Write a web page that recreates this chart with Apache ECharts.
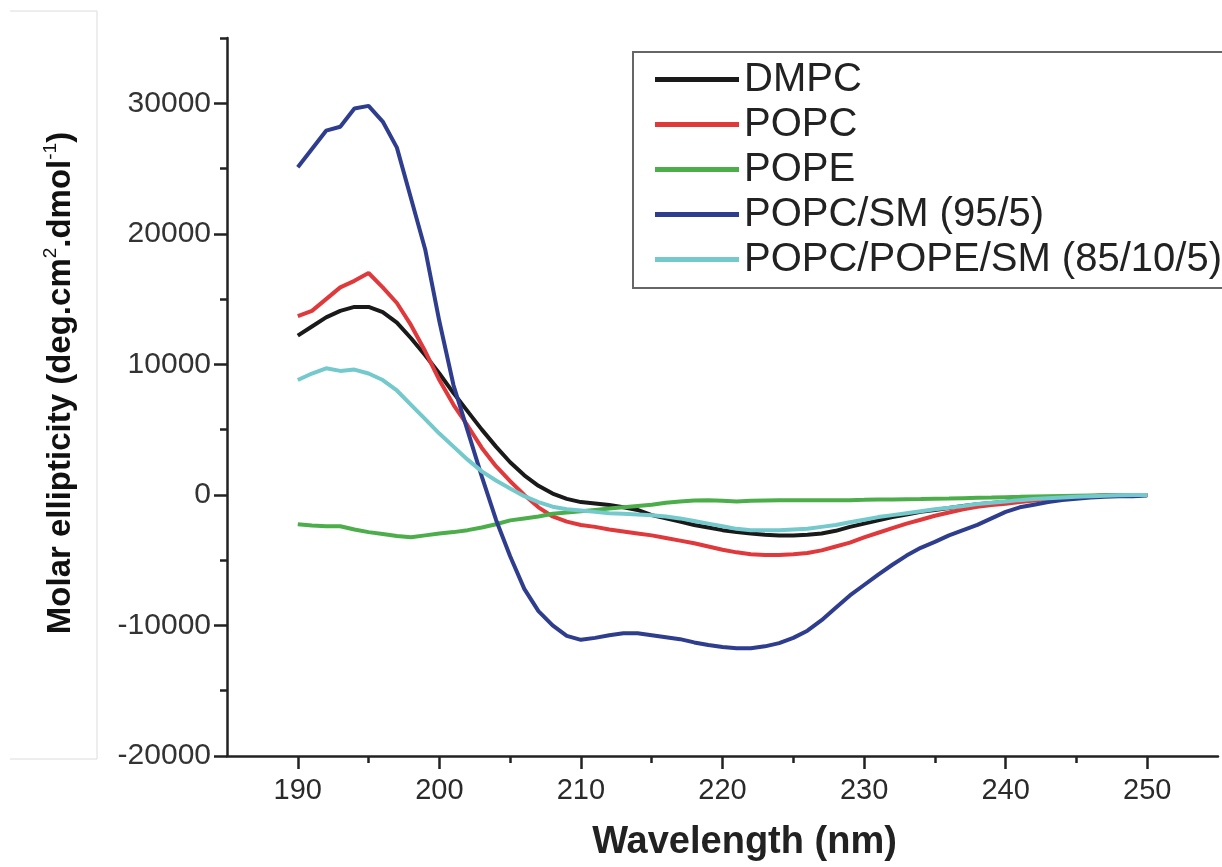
<!DOCTYPE html>
<html>
<head>
<meta charset="utf-8">
<script src="https://cdn.jsdelivr.net/npm/echarts@6/dist/echarts.min.js"></script>
<style>
html,body{margin:0;padding:0;background:#fff;}
#chart{width:1222px;height:867px;}
</style>
</head>
<body>
<div id="chart"></div>
<script>
// ---- data ----
const wavelengths = [190,191,192,193,194,195,196,197,198,199,200,201,202,203,204,205,206,207,208,209,210,211,212,213,214,215,216,217,218,219,220,221,222,223,224,225,226,227,228,229,230,231,232,233,234,235,236,237,238,239,240,241,242,243,244,245,246,247,248,249,250];
const seriesNames = ['DMPC','POPC','POPE','POPC/SM (95/5)','POPC/POPE/SM (85/10/5)'];
const dmpc = [12200,12900,13600,14100,14400,14400,14000,13200,12000,10700,9300,7800,6400,5000,3700,2500,1500,700,100,-300,-550,-650,-780,-950,-1150,-1550,-1800,-2050,-2300,-2500,-2700,-2850,-2950,-3050,-3100,-3100,-3050,-2950,-2750,-2450,-2200,-1950,-1700,-1500,-1300,-1150,-1000,-850,-720,-620,-520,-400,-330,-270,-200,-150,-100,-50,0,0,0];
const popc = [13700,14100,15000,15900,16400,17000,15900,14700,13000,11000,8800,6900,5300,3600,2200,1050,0,-950,-1650,-2050,-2300,-2450,-2650,-2800,-2950,-3100,-3300,-3500,-3700,-3950,-4200,-4400,-4550,-4600,-4600,-4550,-4450,-4250,-3950,-3650,-3250,-2900,-2550,-2200,-1900,-1600,-1350,-1100,-900,-780,-680,-550,-420,-300,-200,-130,-80,-40,-20,0,0];
const pope = [-2250,-2350,-2400,-2400,-2650,-2850,-3000,-3150,-3250,-3100,-2950,-2850,-2700,-2500,-2250,-1950,-1800,-1650,-1450,-1350,-1250,-1150,-1050,-950,-850,-750,-600,-500,-420,-400,-450,-500,-450,-420,-400,-400,-400,-400,-400,-400,-380,-350,-350,-330,-320,-300,-280,-250,-220,-200,-170,-150,-120,-100,-80,-60,-40,-20,0,0,0];
const popcSm = [25100,26500,27900,28200,29600,29800,28600,26600,22700,18800,13300,8400,4900,1400,-1900,-4700,-7200,-8900,-10000,-10800,-11100,-10950,-10750,-10600,-10600,-10750,-10900,-11050,-11300,-11500,-11650,-11750,-11750,-11600,-11350,-10950,-10400,-9600,-8650,-7700,-6900,-6100,-5350,-4650,-4050,-3600,-3100,-2700,-2300,-1800,-1300,-950,-750,-550,-400,-300,-200,-150,-100,-100,-50];
const popcPopeSm = [8800,9300,9700,9500,9600,9300,8800,8000,6900,5800,4700,3700,2700,1800,1100,500,-100,-550,-900,-1100,-1200,-1300,-1400,-1450,-1500,-1550,-1650,-1800,-2000,-2200,-2400,-2600,-2700,-2700,-2700,-2650,-2600,-2450,-2300,-2100,-1900,-1700,-1550,-1400,-1250,-1100,-980,-850,-700,-600,-500,-400,-320,-250,-200,-150,-100,-60,-30,0,0];
const xTickLabels = [190,200,210,220,230,240,250];
const xMinorTicks = [195,205,215,225,235,245];
const yTickLabels = [-20000,-10000,0,10000,20000,30000];
const yMinorTicks = [-15000,-5000,5000,15000,25000,35000];

const colors = ['#1a1a1a','#e0393b','#4cae4a','#2e3d8e','#74c9cc'];
const allValues = [dmpc, popc, pope, popcSm, popcPopeSm];

const chart = echarts.init(document.getElementById('chart'));
const axisColor = '#222';

const series = seriesNames.map((name, i) => ({
  name: name,
  type: 'line',
  xAxisIndex: 0,
  yAxisIndex: 0,
  symbol: 'none',
  smooth: false,
  data: wavelengths.map((w, j) => [w, allValues[i][j]]),
  lineStyle: { width: 4, color: colors[i] },
  itemStyle: { color: colors[i] },
  z: 2 + i
}));

const option = {
  animation: false,
  backgroundColor: '#fff',
  grid: { left: 227, right: 4, top: 38, bottom: 111, containLabel: false },
  xAxis: [
    {
      type: 'value', min: 185, max: 255,
      name: 'Wavelength (nm)', nameLocation: 'middle', nameGap: 68,
      nameTextStyle: { fontFamily: 'Liberation Sans, Arial, sans-serif', fontWeight: 'bold', fontSize: 38, color: '#222', padding: [0,0,0,44] },
      axisLine: { show: true, onZero: false, lineStyle: { color: axisColor, width: 2.5 } },
      axisTick: { show: true, length: 13, inside: false, customValues: xTickLabels, lineStyle: { color: axisColor, width: 2.5 } },
      axisLabel: { show: true, customValues: xTickLabels, margin: 20, fontFamily: 'Liberation Sans Narrow, Liberation Sans, Arial, sans-serif', fontSize: 29, color: '#2a2a2a', formatter: v => String(v) },
      splitLine: { show: false }
    },
    {
      type: 'value', min: 185, max: 255, position: 'bottom', gridIndex: 0,
      axisLine: { show: false, onZero: false },
      axisTick: { show: true, length: 7, customValues: xMinorTicks, lineStyle: { color: axisColor, width: 2.5 } },
      axisLabel: { show: false },
      splitLine: { show: false }
    }
  ],
  yAxis: [
    {
      type: 'value', min: -20000, max: 35000,
      axisLine: { show: true, onZero: false, lineStyle: { color: axisColor, width: 2.5 } },
      axisTick: { show: true, length: 13, customValues: yTickLabels, lineStyle: { color: axisColor, width: 2.5 } },
      axisLabel: { show: true, customValues: yTickLabels, margin: 16, fontFamily: 'Liberation Sans, Arial, sans-serif', fontSize: 30, color: '#333', formatter: v => String(v) },
      splitLine: { show: false }
    },
    {
      type: 'value', min: -20000, max: 35000, position: 'left', gridIndex: 0,
      axisLine: { show: false, onZero: false },
      axisTick: { show: true, length: 7, customValues: yMinorTicks, lineStyle: { color: axisColor, width: 2.5 } },
      axisLabel: { show: false },
      splitLine: { show: false }
    }
  ],
  legend: {
    orient: 'vertical',
    left: 633, top: 52,
    padding: [5, 40, 6, 22],
    itemGap: 0,
    itemWidth: 84, itemHeight: 5,
    icon: 'rect',
    borderColor: '#666', borderWidth: 2,
    backgroundColor: '#fff',
    textStyle: { fontFamily: 'Liberation Sans, Arial, sans-serif', fontSize: 40, color: '#222', lineHeight: 45 },
    data: seriesNames
  },
  graphic: [
    {
      type: 'polyline',
      shape: { points: [[10, 11], [97, 11], [97, 759], [10, 759]] },
      style: { stroke: '#dcdcdc', lineWidth: 1, fill: null },
      silent: true
    },
    {
      type: 'text',
      x: 61, y: 383,
      rotation: Math.PI / 2,
      style: {
        text: '{a|Molar ellipticity (deg.cm}{s|2}{a|.dmol}{s|-1}{a|)}',
        align: 'center', verticalAlign: 'middle',
        fill: '#111',
        rich: {
          a: { fontFamily: 'Liberation Sans, Arial, sans-serif', fontWeight: 'bold', fontSize: 33, lineHeight: 40, fill: '#111' },
          s: { fontFamily: 'Liberation Sans, Arial, sans-serif', fontWeight: 'normal', fontSize: 19, lineHeight: 40, verticalAlign: 'top', fill: '#111' }
        }
      },
      silent: true
    }
  ],
  series: series
};
chart.setOption(option);
</script>
</body>
</html>
